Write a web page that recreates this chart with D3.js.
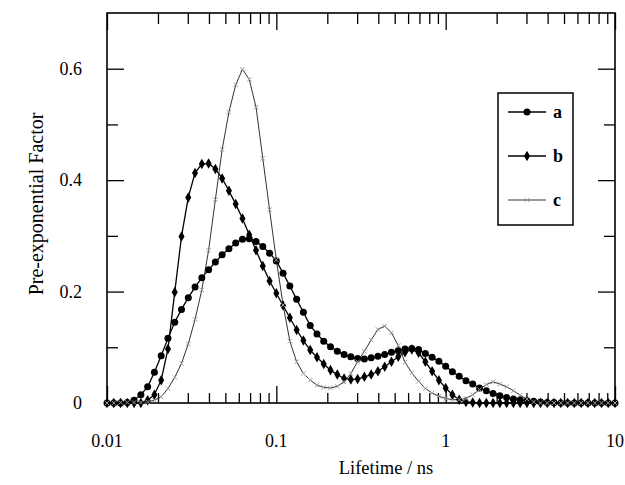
<!DOCTYPE html>
<html>
<head>
<meta charset="utf-8">
<script src="https://cdn.jsdelivr.net/npm/d3@7/dist/d3.min.js"></script>
<style>
body { margin: 0; background: #fff; }
text { font-family: "Liberation Serif", "DejaVu Serif", serif; fill: #000; }
</style>
</head>
<body>
<div id="d3-container"></div>
<script>
// lifetime grid (ns), 25 points per decade
var lifetime = [0.01, 0.01096, 0.01202, 0.01318, 0.01445, 0.01585, 0.01738, 0.01905, 0.02089, 0.02291,
    0.02512, 0.02754, 0.0302, 0.03311, 0.03631, 0.03981, 0.04365, 0.04786, 0.05248, 0.05754,
    0.0631, 0.06918, 0.07586, 0.08318, 0.0912, 0.1, 0.1096, 0.1202, 0.1318, 0.1445,
    0.1585, 0.1738, 0.1905, 0.2089, 0.2291, 0.2512, 0.2754, 0.302, 0.3311, 0.3631,
    0.3981, 0.4365, 0.4786, 0.5248, 0.5754, 0.631, 0.6918, 0.7586, 0.8318, 0.912,
    1, 1.096, 1.202, 1.318, 1.445, 1.585, 1.738, 1.905, 2.089, 2.291,
    2.512, 2.754, 3.02, 3.311, 3.631, 3.981, 4.365, 4.786, 5.248, 5.754,
    6.31, 6.918, 7.586, 8.318, 9.12, 10];

var seriesA = [0, 0, 0, 0.001, 0.005, 0.015, 0.029, 0.055, 0.085, 0.116,
    0.145, 0.168, 0.189, 0.208, 0.225, 0.239, 0.253, 0.266, 0.277, 0.287,
    0.294, 0.295, 0.290, 0.281, 0.269, 0.255, 0.233, 0.210, 0.186, 0.163,
    0.139, 0.124, 0.111, 0.101, 0.093, 0.087, 0.083, 0.080, 0.079, 0.081,
    0.084, 0.087, 0.091, 0.094, 0.097, 0.098, 0.096, 0.089, 0.082, 0.075,
    0.066, 0.056, 0.048, 0.040, 0.034, 0.027, 0.022, 0.017, 0.013, 0.010,
    0.007, 0.006, 0.004, 0.003, 0.002, 0.001, 0.001, 0, 0, 0,
    0, 0, 0, 0, 0, 0];

var seriesB = [0, 0, 0, 0, 0, 0, 0.005, 0.015, 0.041, 0.097,
    0.199, 0.299, 0.369, 0.413, 0.429, 0.430, 0.420, 0.403, 0.381, 0.357,
    0.331, 0.302, 0.274, 0.246, 0.219, 0.197, 0.175, 0.153, 0.131, 0.112,
    0.095, 0.082, 0.070, 0.059, 0.051, 0.044, 0.042, 0.043, 0.047, 0.051,
    0.057, 0.065, 0.074, 0.083, 0.091, 0.096, 0.090, 0.074, 0.057, 0.041,
    0.027, 0.015, 0.006, 0.002, 0.001, 0, 0, 0, 0, 0,
    0, 0, 0, 0, 0, 0, 0, 0, 0, 0,
    0, 0, 0, 0, 0, 0];

var seriesC = [0, 0, 0.001, 0.001, 0.001, 0.001, 0.002, 0.005, 0.011, 0.026,
    0.046, 0.071, 0.106, 0.150, 0.203, 0.274, 0.365, 0.455, 0.522, 0.571,
    0.599, 0.581, 0.531, 0.439, 0.347, 0.257, 0.176, 0.111, 0.074, 0.053,
    0.041, 0.032, 0.028, 0.027, 0.030, 0.038, 0.053, 0.074, 0.093, 0.113,
    0.132, 0.138, 0.126, 0.103, 0.073, 0.054, 0.039, 0.026, 0.018, 0.012,
    0.008, 0.006, 0.006, 0.008, 0.015, 0.024, 0.033, 0.038, 0.034, 0.029,
    0.022, 0.014, 0.007, 0.002, 0, 0, 0, 0, 0, 0,
    0, 0, 0, 0, 0, 0];

var legendNames = ['a', 'b', 'c'];
var xMajorTicks = [0.01, 0.1, 1, 10];
var xTickLabels = ['0.01', '0.1', '1', '10'];
var yMajorTicks = [0, 0.2, 0.4, 0.6];
var yMinorTicks = [0.1, 0.3, 0.5];
var yTickLabels = ['0', '0.2', '0.4', '0.6'];

function createChart() {
    var W = 625, H = 485;
    var pLeft = 107, pRight = 615, pTop = 13, pBottom = 403;

    var svg = d3.select('#d3-container')
        .append('svg')
        .attr('width', W)
        .attr('height', H);

    var x = d3.scaleLog().domain([0.01, 10]).range([pLeft, pRight]);
    var y = d3.scaleLinear().domain([0, 0.7]).range([pBottom, pTop]);

    var xMinorTicks = x.ticks().filter(function(t) { return xMajorTicks.indexOf(t) < 0; });

    // inward ticks on all four sides
    function tickAxis(axisFn, scale, vals, len, tx, ty) {
        svg.append('g')
            .attr('transform', 'translate(' + tx + ',' + ty + ')')
            .call(axisFn(scale).tickValues(vals).tickSize(-len).tickFormat(''))
            .call(function(g) { g.select('.domain').remove(); })
            .selectAll('line').attr('stroke', '#000').attr('stroke-width', 1.3);
    }
    tickAxis(d3.axisBottom, x, xMajorTicks, 17, 0, pBottom);
    tickAxis(d3.axisBottom, x, xMinorTicks, 10, 0, pBottom);
    tickAxis(d3.axisTop, x, xMajorTicks, 17, 0, pTop);
    tickAxis(d3.axisTop, x, xMinorTicks, 11, 0, pTop);
    tickAxis(d3.axisLeft, y, yMajorTicks, 17, pLeft, 0);
    tickAxis(d3.axisLeft, y, yMinorTicks, 11, pLeft, 0);
    tickAxis(d3.axisRight, y, yMajorTicks, 17, pRight, 0);
    tickAxis(d3.axisRight, y, yMinorTicks, 11, pRight, 0);

    svg.append('rect')
        .attr('x', pLeft).attr('y', pTop)
        .attr('width', pRight - pLeft).attr('height', pBottom - pTop)
        .attr('fill', 'none').attr('stroke', '#000').attr('stroke-width', 1.6);

    // tick labels
    svg.append('g').selectAll('text')
        .data(xMajorTicks)
        .enter().append('text')
        .attr('x', d => x(d))
        .attr('y', 447)
        .attr('text-anchor', 'middle')
        .style('font-size', '18px')
        .text((d, i) => xTickLabels[i]);

    svg.append('g').selectAll('text')
        .data(yMajorTicks)
        .enter().append('text')
        .attr('x', 82)
        .attr('y', d => y(d) + 6)
        .attr('text-anchor', 'end')
        .style('font-size', '18px')
        .text((d, i) => yTickLabels[i]);

    svg.append('text')
        .attr('x', 386).attr('y', 474)
        .attr('text-anchor', 'middle')
        .style('font-size', '18.5px')
        .text('Lifetime / ns');

    svg.append('text')
        .attr('transform', 'translate(43,204) rotate(-90)')
        .attr('text-anchor', 'middle')
        .style('font-size', '20px')
        .text('Pre-exponential Factor');

    // series
    var series = [
        { name: legendNames[0], values: seriesA, lineColor: '#000', lineWidth: 1.3 },
        { name: legendNames[1], values: seriesB, lineColor: '#000', lineWidth: 1.3 },
        { name: legendNames[2], values: seriesC, lineColor: '#333', lineWidth: 1 }
    ];

    var line = d3.line()
        .x((d, i) => x(lifetime[i]))
        .y(d => y(d));

    series.forEach(function(s) {
        svg.append('path')
            .datum(s.values)
            .attr('fill', 'none')
            .attr('stroke', s.lineColor)
            .attr('stroke-width', s.lineWidth)
            .attr('d', line);
    });

    function drawMarker(g, k, cx, cy) {
        if (k === 0) {
            g.append('circle').attr('cx', cx).attr('cy', cy).attr('r', 3.5).attr('fill', '#000');
        } else if (k === 1) {
            g.append('path').attr('d', d3.symbol().type(d3.symbolDiamond).size(32)())
                .attr('transform', 'translate(' + cx + ',' + cy + ')').attr('fill', '#000');
        } else {
            g.append('path').attr('d', d3.symbol().type(d3.symbolX).size(14)())
                .attr('transform', 'translate(' + cx + ',' + cy + ')')
                .attr('fill', 'none').attr('stroke', '#9a9a9a').attr('stroke-width', 1);
        }
    }

    series.forEach(function(s, k) {
        var g = svg.append('g');
        s.values.forEach(function(v, i) {
            drawMarker(g, k, x(lifetime[i]), y(v));
        });
    });

    // legend
    var legend = svg.append('g');
    legend.append('rect')
        .attr('x', 498).attr('y', 93)
        .attr('width', 75).attr('height', 132)
        .attr('fill', '#fff').attr('stroke', '#000').attr('stroke-width', 1.5);

    series.forEach(function(s, k) {
        var ly = 112 + k * 44;
        legend.append('line')
            .attr('x1', 508).attr('x2', 546)
            .attr('y1', ly).attr('y2', ly)
            .attr('stroke', s.lineColor).attr('stroke-width', s.lineWidth);
        drawMarker(legend, k, 527, ly);
        legend.append('text')
            .attr('x', 553).attr('y', ly + 6)
            .style('font-size', '18px')
            .style('font-weight', 'bold')
            .text(s.name);
    });
}

createChart();
</script>
</body>
</html>
